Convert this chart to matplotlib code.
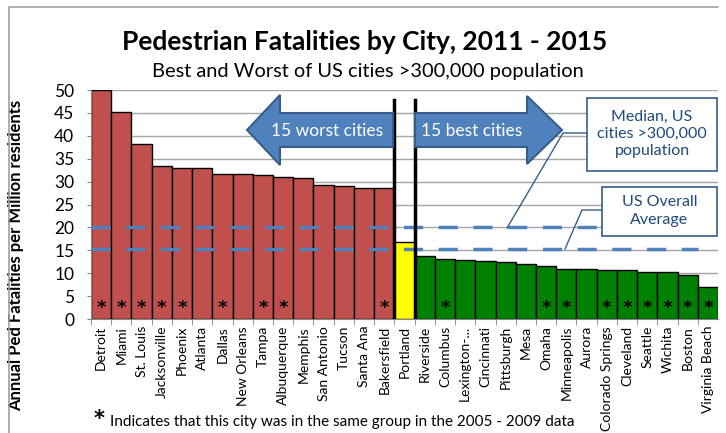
import matplotlib
matplotlib.use("Agg")
import matplotlib.pyplot as plt
from matplotlib.patches import FancyArrow, Rectangle
from matplotlib.lines import Line2D

plt.rcParams['font.family'] = ['Lato', 'DejaVu Sans']

# data
cities = ["Detroit", "Miami", "St. Louis", "Jacksonville", "Phoenix", "Atlanta",
          "Dallas", "New Orleans", "Tampa", "Albuquerque", "Memphis", "San Antonio",
          "Tucson", "Santa Ana", "Bakersfield", "Portland", "Riverside", "Columbus",
          "Lexington-...", "Cincinnati", "Pittsburgh", "Mesa", "Omaha", "Minneapolis",
          "Aurora", "Colorado Springs", "Cleveland", "Seattle", "Wichita", "Boston",
          "Virginia Beach"]
rates = [50.0, 45.3, 38.3, 33.5, 32.9, 32.9, 31.7, 31.7, 31.4, 31.1, 30.7, 29.2,
         29.0, 28.7, 28.5, 16.9, 13.8, 13.0, 12.8, 12.7, 12.4, 12.1, 11.5, 10.9,
         10.9, 10.8, 10.6, 10.3, 10.2, 9.5, 7.0]
groups = ["worst"] * 15 + ["portland"] + ["best"] * 15
same_group_2005 = ["Detroit", "Miami", "St. Louis", "Jacksonville", "Phoenix", "Dallas",
                   "Tampa", "Albuquerque", "Bakersfield", "Columbus", "Omaha",
                   "Minneapolis", "Colorado Springs", "Cleveland", "Seattle",
                   "Wichita", "Boston", "Virginia Beach"]
median_large_cities = 20.1
us_overall_avg = 15.2

colors = {"worst": "#C0504D", "portland": "#FFFF00", "best": "#008000"}
blue = "#4F81BD"
dark_blue = "#385D8A"
W, H = 726, 433


def px(x, y):
    # pixel position (from top-left) -> figure fraction
    return x / W, 1 - y / H


fig = plt.figure(figsize=(W / 100, H / 100), dpi=100)
ax = fig.add_axes([91 / W, 1 - 319 / H, (718 - 91) / W, (319 - 90) / H])

x = list(range(len(cities)))
ax.bar(x, rates, width=1.0, color=[colors[g] for g in groups],
       edgecolor="black", linewidth=1.0, zorder=2)
ax.set_xlim(-0.5, len(cities) - 0.5)
ax.set_ylim(0, 50)
ax.set_yticks(range(0, 51, 5))
ax.tick_params(axis="y", labelsize=12.5, length=3, color="#868686", pad=9)
ax.set_xticks([i + 0.5 for i in x[:-1]] + [-0.5], minor=True)
ax.set_xticks(x)
ax.set_xticklabels(cities, rotation=90, fontsize=10)
ax.tick_params(axis="x", which="major", length=0, pad=5)
ax.tick_params(axis="x", which="minor", length=4, color="#868686")
ax.grid(axis="y", color="#A6A6A6", linewidth=1, zorder=0)
ax.set_axisbelow(True)
for s in ["top", "right"]:
    ax.spines[s].set_visible(False)
for s in ["left", "bottom"]:
    ax.spines[s].set_color("#868686")

for i, c in enumerate(cities):
    if c in same_group_2005:
        ax.text(i, 2.3, "*", ha="center", va="center", fontsize=13,
                fontweight="bold", family="DejaVu Sans", zorder=4)

for val in [median_large_cities, us_overall_avg]:
    ax.plot([-0.5, 29.5], [val, val], color=blue, linewidth=2.5,
            dashes=(5.5, 4.5), zorder=3)

for xb in [14.5, 15.5]:
    ax.plot([xb, xb], [0, 47.8], color="black", linewidth=2.5, zorder=5)

ax.set_ylabel("Annual Ped Fatalities per Million residents", fontsize=12,
              fontweight="bold")
ax.yaxis.set_label_coords(-(91 - 24) / (718 - 91), (319 - 255) / (319 - 90))

# arrows
ax_tr = fig.transFigure
x0, y0 = px(393, 130)
x1, _ = px(247, 130)
arr = FancyArrow(x0, y0, x1 - x0, 0, width=34 / H, head_width=70 / H,
                 head_length=33 / W, length_includes_head=True,
                 transform=ax_tr, facecolor=blue, edgecolor=dark_blue,
                 linewidth=1.5, zorder=6)
fig.add_artist(arr)
x0, y0 = px(415, 130)
x1, _ = px(562, 130)
arr = FancyArrow(x0, y0, x1 - x0, 0, width=34 / H, head_width=68 / H,
                 head_length=35 / W, length_includes_head=True,
                 transform=ax_tr, facecolor=blue, edgecolor=dark_blue,
                 linewidth=1.5, zorder=6)
fig.add_artist(arr)
fig.text(*px(327, 131), "15 worst cities", color="white", fontsize=12.5,
         ha="center", va="center", zorder=7)
fig.text(*px(472, 131), "15 best cities", color="white", fontsize=12.5,
         ha="center", va="center", zorder=7)

# callout boxes and leader lines
for (bx0, by0, bx1, by1, label, cy) in [
        (587, 98, 717, 171, "Median, US\ncities >300,000\npopulation", 134),
        (602, 187, 717, 236, "US Overall\nAverage", 211)]:
    fx, fy = px(bx0, by1)
    rect = Rectangle((fx, fy), (bx1 - bx0) / W, (by1 - by0) / H,
                     transform=ax_tr, facecolor="white", edgecolor=dark_blue,
                     linewidth=1.2, zorder=8)
    fig.add_artist(rect)
    fig.text(*px((bx0 + bx1) / 2, cy), label, color="#1F497D", fontsize=11.5,
             ha="center", va="center", linespacing=1.3, zorder=9)

for pts in [[(587, 133), (563, 133), (507, 228)],
            [(602, 210), (582, 210), (565, 249)]]:
    xs = [p[0] / W for p in pts]
    ys = [1 - p[1] / H for p in pts]
    fig.add_artist(Line2D(xs, ys, transform=ax_tr, color=dark_blue,
                          linewidth=1, zorder=7))

# titles and footnote
fig.text(*px(365, 42), "Pedestrian Fatalities by City, 2011 - 2015",
         fontsize=19, fontweight="bold", ha="center", va="center")
fig.text(*px(368, 72), "Best and Worst of US cities >300,000 population",
         fontsize=14.4, ha="center", va="center")
fig.text(*px(99, 419), "*", fontsize=15, fontweight="bold", ha="center",
         va="center", family="DejaVu Sans")
fig.text(*px(110, 422), "Indicates that this city was in the same group in the 2005 - 2009 data",
         fontsize=11, ha="left", va="center")

# outer chart frame (left and top edges visible)
fig.add_artist(Line2D([9 / W, 9 / W, 718 / W], [0, 1 - 7 / H, 1 - 7 / H],
                      transform=ax_tr, color="#A0A0A0", linewidth=1.2))

fig.savefig("out.png", dpi=100)
